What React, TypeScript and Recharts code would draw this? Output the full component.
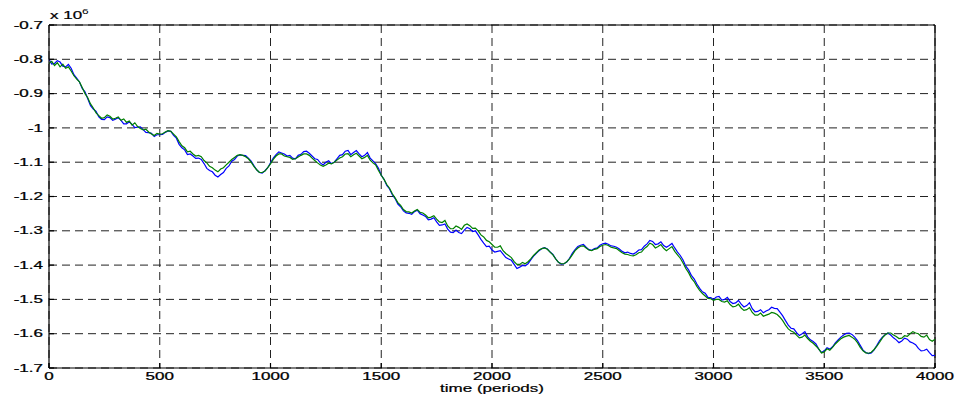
import React from "react";
import { LineChart, Line, XAxis, YAxis, CartesianGrid, ReferenceLine, Label } from "recharts";

// time step between samples (periods)
const STEP = 12.5;

// values in units of 1e6, one row = 100 periods
const blueSeries: number[] = [
  -0.800, -0.814, -0.812, -0.804, -0.808, -0.820, -0.822, -0.815,
  -0.826, -0.845, -0.855, -0.866, -0.885, -0.895, -0.915, -0.935,
  -0.945, -0.952, -0.968, -0.975, -0.976, -0.968, -0.970, -0.978,
  -0.975, -0.970, -0.978, -0.988, -0.988, -0.982, -0.990, -0.999,
  -0.998, -0.997, -1.005, -1.013, -1.014, -1.016, -1.025, -1.020,
  // 500
  -1.020, -1.019, -1.013, -1.009, -1.010, -1.022, -1.030, -1.048,
  -1.058, -1.064, -1.078, -1.076, -1.082, -1.089, -1.088, -1.092,
  -1.104, -1.118, -1.124, -1.128, -1.138, -1.143, -1.136, -1.130,
  -1.118, -1.111, -1.097, -1.092, -1.082, -1.079, -1.080, -1.081,
  -1.088, -1.097, -1.110, -1.122, -1.130, -1.132, -1.125, -1.116,
  // 1000
  -1.102, -1.088, -1.078, -1.070, -1.073, -1.076, -1.082, -1.080,
  -1.088, -1.090, -1.080, -1.077, -1.069, -1.068, -1.074, -1.082,
  -1.090, -1.092, -1.102, -1.108, -1.100, -1.096, -1.104, -1.100,
  -1.090, -1.080, -1.078, -1.068, -1.066, -1.078, -1.072, -1.066,
  -1.076, -1.084, -1.080, -1.072, -1.088, -1.096, -1.105, -1.118,
  // 1500
  -1.138, -1.150, -1.168, -1.178, -1.195, -1.206, -1.222, -1.230,
  -1.242, -1.248, -1.249, -1.252, -1.244, -1.240, -1.250, -1.254,
  -1.258, -1.268, -1.266, -1.262, -1.274, -1.284, -1.283, -1.280,
  -1.295, -1.304, -1.305, -1.298, -1.305, -1.308, -1.298, -1.290,
  -1.294, -1.302, -1.300, -1.312, -1.325, -1.336, -1.346, -1.345,
  // 2000
  -1.356, -1.362, -1.360, -1.358, -1.368, -1.378, -1.382, -1.386,
  -1.398, -1.410, -1.406, -1.401, -1.402, -1.396, -1.385, -1.374,
  -1.366, -1.358, -1.352, -1.349, -1.353, -1.362, -1.369, -1.382,
  -1.392, -1.397, -1.396, -1.391, -1.380, -1.366, -1.355, -1.346,
  -1.342, -1.340, -1.348, -1.355, -1.357, -1.352, -1.350, -1.342,
  // 2500
  -1.338, -1.336, -1.339, -1.344, -1.345, -1.348, -1.353, -1.360,
  -1.364, -1.362, -1.366, -1.368, -1.363, -1.356, -1.355, -1.345,
  -1.338, -1.328, -1.331, -1.340, -1.338, -1.332, -1.343, -1.348,
  -1.343, -1.337, -1.350, -1.362, -1.372, -1.385, -1.403, -1.414,
  -1.430, -1.440, -1.455, -1.468, -1.478, -1.482, -1.494, -1.495,
  // 3000
  -1.500, -1.493, -1.491, -1.502, -1.500, -1.494, -1.506, -1.512,
  -1.510, -1.503, -1.514, -1.522, -1.518, -1.510, -1.527, -1.536,
  -1.535, -1.530, -1.539, -1.534, -1.530, -1.523, -1.526, -1.527,
  -1.537, -1.548, -1.562, -1.575, -1.584, -1.586, -1.597, -1.605,
  -1.600, -1.594, -1.609, -1.618, -1.623, -1.630, -1.645, -1.655,
  // 3500
  -1.650, -1.641, -1.645, -1.638, -1.627, -1.618, -1.610, -1.604,
  -1.599, -1.598, -1.602, -1.610, -1.620, -1.634, -1.648, -1.655,
  -1.658, -1.656, -1.647, -1.634, -1.620, -1.610, -1.603, -1.598,
  -1.604, -1.612, -1.618, -1.626, -1.621, -1.613, -1.616, -1.624,
  -1.627, -1.632, -1.643, -1.650, -1.649, -1.645, -1.655, -1.664,
  // 4000
  -1.663,
];

const greenSeries: number[] = [
  -0.812, -0.806, -0.818, -0.810, -0.822, -0.814, -0.826, -0.822,
  -0.834, -0.848, -0.858, -0.866, -0.882, -0.900, -0.912, -0.930,
  -0.942, -0.956, -0.964, -0.972, -0.970, -0.962, -0.966, -0.974,
  -0.972, -0.968, -0.978, -0.974, -0.984, -0.980, -0.992, -0.985,
  -0.996, -1.002, -1.006, -1.004, -1.012, -1.018, -1.022, -1.016,
  // 500
  -1.018, -1.017, -1.012, -1.008, -1.010, -1.018, -1.026, -1.040,
  -1.052, -1.058, -1.070, -1.068, -1.076, -1.082, -1.080, -1.084,
  -1.095, -1.102, -1.112, -1.116, -1.123, -1.128, -1.120, -1.116,
  -1.108, -1.100, -1.092, -1.086, -1.080, -1.078, -1.080, -1.084,
  -1.090, -1.100, -1.112, -1.122, -1.130, -1.130, -1.126, -1.116,
  // 1000
  -1.105, -1.092, -1.082, -1.076, -1.076, -1.082, -1.084, -1.086,
  -1.092, -1.090, -1.085, -1.080, -1.076, -1.076, -1.080, -1.088,
  -1.095, -1.102, -1.108, -1.112, -1.108, -1.103, -1.105, -1.100,
  -1.094, -1.088, -1.084, -1.076, -1.075, -1.084, -1.078, -1.074,
  -1.082, -1.090, -1.086, -1.080, -1.094, -1.102, -1.108, -1.124,
  // 1500
  -1.138, -1.150, -1.165, -1.176, -1.192, -1.204, -1.218, -1.226,
  -1.238, -1.244, -1.245, -1.248, -1.242, -1.238, -1.246, -1.248,
  -1.254, -1.262, -1.260, -1.256, -1.266, -1.274, -1.276, -1.270,
  -1.286, -1.294, -1.294, -1.286, -1.290, -1.296, -1.284, -1.280,
  -1.285, -1.293, -1.292, -1.300, -1.312, -1.318, -1.328, -1.332,
  // 2000
  -1.340, -1.348, -1.348, -1.344, -1.358, -1.366, -1.372, -1.378,
  -1.390, -1.398, -1.398, -1.392, -1.396, -1.390, -1.382, -1.372,
  -1.364, -1.356, -1.352, -1.350, -1.354, -1.362, -1.370, -1.382,
  -1.392, -1.396, -1.396, -1.390, -1.382, -1.370, -1.358, -1.350,
  -1.345, -1.344, -1.350, -1.356, -1.358, -1.354, -1.352, -1.346,
  // 2500
  -1.342, -1.340, -1.343, -1.348, -1.350, -1.352, -1.358, -1.364,
  -1.368, -1.369, -1.372, -1.373, -1.370, -1.364, -1.362, -1.352,
  -1.346, -1.336, -1.340, -1.350, -1.346, -1.340, -1.351, -1.358,
  -1.352, -1.346, -1.360, -1.370, -1.380, -1.394, -1.410, -1.422,
  -1.438, -1.448, -1.462, -1.474, -1.483, -1.490, -1.497, -1.498,
  // 3000
  -1.503, -1.500, -1.500, -1.506, -1.508, -1.504, -1.515, -1.522,
  -1.520, -1.514, -1.525, -1.532, -1.530, -1.524, -1.538, -1.546,
  -1.546, -1.540, -1.549, -1.546, -1.543, -1.538, -1.540, -1.544,
  -1.552, -1.562, -1.575, -1.586, -1.592, -1.596, -1.604, -1.612,
  -1.610, -1.604, -1.614, -1.622, -1.628, -1.636, -1.644, -1.656,
  // 3500
  -1.653, -1.644, -1.648, -1.640, -1.630, -1.622, -1.615, -1.610,
  -1.607, -1.605, -1.610, -1.616, -1.626, -1.640, -1.650, -1.656,
  -1.657, -1.654, -1.646, -1.636, -1.625, -1.612, -1.603, -1.598,
  -1.598, -1.604, -1.608, -1.614, -1.613, -1.606, -1.608, -1.600,
  -1.594, -1.598, -1.600, -1.608, -1.610, -1.604, -1.617, -1.622,
  // 4000
  -1.616,
];

const xTicks = [0, 500, 1000, 1500, 2000, 2500, 3000, 3500, 4000];
const yTicks = [-1.7, -1.6, -1.5, -1.4, -1.3, -1.2, -1.1, -1.0, -0.9, -0.8, -0.7];

const data = blueSeries.map((b, i) => ({ t: i * STEP, blue: b, green: greenSeries[i] }));

const FONT = "'Liberation Sans', Arial, Helvetica, sans-serif";
const SX = 1.7;

const fmtY = (v: number) => String(Number(v.toFixed(1)));

const YTick = (props: any) => {
  const { x, y, payload } = props;
  return (
    <text
      transform={`translate(${x},${y}) scale(${SX},1)`}
      textAnchor="end"
      dy="0.36em"
      fontSize={10}
      fontFamily={FONT}
      fill="#000"
      stroke="#000"
      strokeWidth={0.25}
    >
      {fmtY(payload.value)}
    </text>
  );
};

const XTick = (props: any) => {
  const { x, y, payload } = props;
  return (
    <text
      transform={`translate(${x},${y}) scale(${SX},1)`}
      textAnchor="middle"
      dy="0.71em"
      fontSize={10}
      fontFamily={FONT}
      fill="#000"
      stroke="#000"
      strokeWidth={0.25}
    >
      {String(payload.value)}
    </text>
  );
};

const XLabel = (props: any) => {
  const vb = props.viewBox || { x: 49, y: 368, width: 886, height: 33 };
  const cx = vb.x + vb.width / 2;
  return (
    <text
      transform={`translate(${cx},${392}) scale(${SX},1)`}
      textAnchor="middle"
      fontSize={10}
      fontFamily={FONT}
      fill="#000"
      stroke="#000"
      strokeWidth={0.2}
    >
      time (periods)
    </text>
  );
};

export default function App() {
  return (
    <div style={{ position: "absolute", left: 0, top: 0, width: 960, height: 401, background: "#fff" }}>
      <LineChart
        width={960}
        height={401}
        data={data}
        margin={{ top: 25, right: 25, left: 0, bottom: 0 }}
      >
        <CartesianGrid
          stroke="#222"
          strokeDasharray="8 5"
          horizontalValues={yTicks}
          verticalValues={xTicks}
        />
        <XAxis
          dataKey="t"
          type="number"
          domain={[0, 4000]}
          ticks={xTicks}
          height={33}
          tickSize={-5}
          tickMargin={10}
          tick={<XTick />}
          axisLine={{ stroke: "#000", strokeWidth: 1.2 }}
          tickLine={{ stroke: "#000", strokeWidth: 1.2 }}
          interval={0}
        >
          <Label content={<XLabel />} />
        </XAxis>
        <YAxis
          type="number"
          domain={[-1.7, -0.7]}
          ticks={yTicks}
          width={49}
          tickSize={-5}
          tickMargin={11}
          tick={<YTick />}
          axisLine={{ stroke: "#000", strokeWidth: 1.2 }}
          tickLine={{ stroke: "#000", strokeWidth: 1.2 }}
          interval={0}
          allowDataOverflow
        />
        <ReferenceLine y={-0.7} stroke="#000" strokeWidth={1.2} />
        <ReferenceLine x={4000} stroke="#000" strokeWidth={1.2} />
        <Line
          type="linear"
          dataKey="blue"
          stroke="#0000ff"
          strokeWidth={1.2}
          dot={false}
          isAnimationActive={false}
        />
        <Line
          type="linear"
          dataKey="green"
          stroke="#008000"
          strokeWidth={1.2}
          dot={false}
          isAnimationActive={false}
        />
      </LineChart>
      <svg
        style={{ position: "absolute", left: 0, top: 0, pointerEvents: "none" }}
        width={960}
        height={30}
      >
        <text transform={`translate(50,19) scale(${SX},1)`} fontSize={10} fontFamily={FONT} fill="#000" stroke="#000" strokeWidth={0.2}>
          x 10
        </text>
        <text transform={`translate(82,14) scale(${SX},1)`} fontSize={7} fontFamily={FONT} fill="#000">
          6
        </text>
      </svg>
    </div>
  );
}
